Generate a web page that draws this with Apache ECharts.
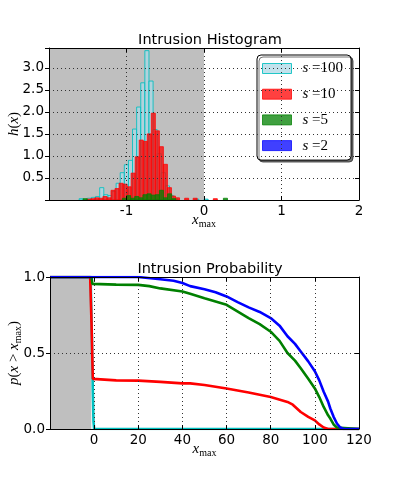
<!DOCTYPE html>
<html>
<head>
<meta charset="utf-8">
<script src="https://cdn.jsdelivr.net/npm/echarts@6/dist/echarts.min.js"></script>
<style>
  html, body { margin: 0; padding: 0; background: #fff; }
  #chart { width: 399px; height: 477px; }
</style>
</head>
<body>
<div id="chart"></div>
<script>
// histogram bins: left edges and heights, one pair of arrays per s
const s100Left = [-1.611, -1.505, -1.452, -1.399, -1.346, -1.293, -1.240, -1.187, -1.134, -1.081, -1.028, -0.975, -0.922, -0.869, -0.816, -0.763, -0.710, -0.657, -0.604, -0.551, -0.498, -0.445, -0.392, -0.120, 0.000];
const s100H    = [0.03, 0.04, 0.06, 0.08, 0.28, 0.12, 0.10, 0.20, 0.38, 0.62, 0.80, 0.90, 1.61, 2.11, 2.66, 3.39, 2.70, 1.60, 1.05, 0.62, 0.32, 0.10, 0.03, 0.02, 0.02];
const s100W = 0.053;

const s10Left = [-1.512, -1.460, -1.408, -1.356, -1.304, -1.252, -1.200, -1.148, -1.096, -1.044, -0.992, -0.940, -0.888, -0.836, -0.784, -0.732, -0.680, -0.628, -0.576, -0.524, -0.472, -0.420, -0.368, -0.250, -0.140, 0.120];
const s10H    = [0.02, 0.03, 0.05, 0.04, 0.08, 0.05, 0.22, 0.26, 0.38, 0.36, 0.30, 0.61, 0.98, 1.36, 1.33, 1.50, 1.97, 1.57, 1.21, 0.81, 0.28, 0.09, 0.05, 0.04, 0.04, 0.03];
const s10W = 0.052;

const s5Left = [-1.560, -1.053, -1.000, -0.947, -0.894, -0.841, -0.788, -0.735, -0.682, -0.629, -0.576, -0.523, -0.470, -0.417, 0.250];
const s5H    = [0.03, 0.04, 0.10, 0.04, 0.08, 0.05, 0.12, 0.14, 0.11, 0.12, 0.22, 0.05, 0.14, 0.03, 0.04];
const s5W = 0.053;

const s2Left = [];
const s2H = [];
const s2W = 0.053;

// intrusion probability curves
const p100X = [-20, -1.6, -1.0, -0.6, -0.3, 0, 120];
const p100Y = [1, 1, 0.6, 0.25, 0.05, 0, 0];
const p10X = [-20, -1.8, -1.2, -0.6, 0, 10, 20, 30, 40, 43.5, 50, 60, 70, 80, 87.6, 90, 93.6, 97, 100, 102, 104, 106, 120];
const p10Y = [1, 1, 0.7, 0.33, 0.322, 0.32, 0.318, 0.31, 0.30, 0.30, 0.29, 0.267, 0.24, 0.211, 0.178, 0.16, 0.112, 0.08, 0.057, 0.03, 0.01, 0, 0];
const p5X = [-20, -1.2, -0.8, 0, 10, 20, 25, 30, 40, 43.5, 50, 60, 70, 75, 80, 84, 87.6, 91, 93.6, 97, 100, 102, 104, 106, 107, 108.5, 110, 120];
const p5Y = [1, 1, 0.955, 0.95, 0.95, 0.948, 0.94, 0.925, 0.905, 0.89, 0.86, 0.817, 0.73, 0.69, 0.64, 0.58, 0.50, 0.45, 0.40, 0.33, 0.267, 0.21, 0.145, 0.09, 0.069, 0.03, 0.01, 0];
const p2X = [-20, 20, 30, 36, 40, 43.5, 50, 55, 60, 65, 70, 75, 80, 84, 87.6, 91, 93.6, 97, 100, 102, 104, 106, 107, 108.5, 110, 111.5, 113, 120];
const p2Y = [1, 1, 0.985, 0.975, 0.96, 0.94, 0.92, 0.9, 0.872, 0.835, 0.8, 0.77, 0.73, 0.68, 0.61, 0.56, 0.51, 0.445, 0.38, 0.32, 0.245, 0.18, 0.135, 0.08, 0.036, 0.01, 0, 0];

const histXTicks = [-2, 2, 1];      // min, max, interval
const histYTicks = [0, 3.45, 0.5];
const probXTicks = [-20, 120, 20];
const probYTicks = [0, 1, 0.5];

const sNames = ['s = 100', 's = 10', 's = 5', 's = 2'];
const faceColors = ['rgba(173,216,230,0.75)', 'rgba(255,0,0,0.75)', 'rgba(0,128,0,0.75)', 'rgba(0,0,255,0.75)'];
const edgeColors = ['rgba(0,191,191,0.85)', 'rgba(255,0,0,0.75)', 'rgba(0,128,0,0.75)', 'rgba(0,0,255,0.75)'];
const lineColors = ['#00bfbf', '#ff0000', '#008000', '#0000ff'];

const chart = echarts.init(document.getElementById('chart'), null, {renderer: 'canvas'});

const tickFont = {fontFamily: 'DejaVu Sans', fontSize: 13.5, color: '#000'};
const mathRich = {
  i: {fontFamily: 'Liberation Serif', fontStyle: 'italic', fontSize: 15, color: '#000'},
  n: {fontFamily: 'Liberation Serif', fontSize: 15, color: '#000'},
  sub: {fontFamily: 'Liberation Serif', fontSize: 10, color: '#000', padding: [8, 0, 0, 0]}
};
const dotted = {show: true, lineStyle: {type: [1, 3], color: '#333', width: 1}};

function histItem(params, api) {
  const x0 = api.value(0), x1 = api.value(1), h = api.value(2);
  const a = api.coord([x0, h]);
  const b = api.coord([x1, 0]);
  return {
    type: 'rect',
    shape: {x: a[0], y: a[1], width: b[0] - a[0], height: b[1] - a[1]},
    style: {fill: faceColors[params.seriesIndex - 1], stroke: edgeColors[params.seriesIndex - 1], lineWidth: 1}
  };
}

function binData(left, h, w) {
  return left.map((x, i) => [x, x + w, h[i]]);
}

function mainX(gi, ticks, hideFirst) {
  return {
    type: 'value', gridIndex: gi, min: ticks[0], max: ticks[1], interval: ticks[2], z: 10,
    axisLine: {show: true, onZero: false, lineStyle: {color: '#000', width: 1}},
    axisTick: {show: true, inside: true, length: 4, lineStyle: {color: '#000'}},
    axisLabel: Object.assign({margin: 4, formatter: v => (v === hideFirst ? '' : String(v))}, tickFont),
    splitLine: dotted,
    name: '{i|x}{sub|max}', nameLocation: 'middle', nameGap: 11, nameMoveOverlap: false,
    nameTextStyle: {rich: mathRich}
  };
}
function frameX(gi, ticks) {
  return {
    type: 'value', gridIndex: gi, position: 'top', min: ticks[0], max: ticks[1], interval: ticks[2], z: 10,
    axisLine: {show: true, onZero: false, lineStyle: {color: '#000', width: 1}},
    axisTick: {show: true, inside: true, length: 4, lineStyle: {color: '#000'}},
    axisLabel: {show: false}, splitLine: {show: false}
  };
}
function mainY(gi, ticks, fmt, name) {
  return {
    type: 'value', gridIndex: gi, min: ticks[0], max: ticks[1], interval: ticks[2], z: 10,
    axisLine: {show: true, onZero: false, lineStyle: {color: '#000', width: 1}},
    axisTick: {show: true, inside: false, length: 4, lineStyle: {color: '#000'}},
    axisLabel: Object.assign({margin: 5, formatter: fmt}, tickFont),
    splitLine: dotted,
    name: name, nameLocation: 'middle', nameGap: 27, nameRotate: 90, nameMoveOverlap: false,
    nameTextStyle: {rich: mathRich}
  };
}
function frameY(gi, ticks) {
  return {
    type: 'value', gridIndex: gi, position: 'right', min: ticks[0], max: ticks[1], interval: ticks[2], z: 10,
    axisLine: {show: true, onZero: false, lineStyle: {color: '#000', width: 1}},
    axisTick: {show: true, inside: true, length: 4, lineStyle: {color: '#000'}},
    axisLabel: {show: false}, splitLine: {show: false}
  };
}

const series = [];
// gray shaded region, top panel
series.push({
  type: 'line', name: 'shade1', xAxisIndex: 0, yAxisIndex: 0, data: [], z: 1, silent: true,
  markArea: {silent: true, itemStyle: {color: '#bfbfbf'}, data: [[{xAxis: -2}, {xAxis: 0}]]}
});
const lefts = [s100Left, s10Left, s5Left, s2Left];
const hs = [s100H, s10H, s5H, s2H];
const ws = [s100W, s10W, s5W, s2W];
sNames.forEach((nm, k) => {
  series.push({
    type: 'custom', name: nm, xAxisIndex: 0, yAxisIndex: 0, z: 2,
    renderItem: histItem, itemStyle: {color: faceColors[k], borderColor: edgeColors[k]},
    encode: {x: [0, 1], y: 2},
    data: binData(lefts[k], hs[k], ws[k])
  });
});
// gray shaded region, bottom panel
series.push({
  type: 'line', name: 'shade2', xAxisIndex: 2, yAxisIndex: 2, data: [], z: 1, silent: true,
  markArea: {silent: true, itemStyle: {color: '#bfbfbf'}, data: [[{xAxis: -20}, {xAxis: -1.3}]]}
});
const px = [p100X, p10X, p5X, p2X];
const py = [p100Y, p10Y, p5Y, p2Y];
px.forEach((xs, k) => {
  series.push({
    type: 'line', name: 'p' + k, xAxisIndex: 2, yAxisIndex: 2, z: 3,
    showSymbol: false, animation: false,
    lineStyle: {color: lineColors[k], width: 2.6},
    data: xs.map((x, i) => [x, py[k][i]])
  });
});

const option = {
  animation: false,
  backgroundColor: '#fff',
  title: [
    {text: 'Intrusion Histogram', left: 205, top: 28, textAlign: 'center',
     textStyle: {fontFamily: 'DejaVu Sans', fontSize: 14.5, fontWeight: 'normal', color: '#000'}},
    {text: 'Intrusion Probability', left: 205, top: 257, textAlign: 'center',
     textStyle: {fontFamily: 'DejaVu Sans', fontSize: 14.5, fontWeight: 'normal', color: '#000'}}
  ],
  grid: [
    {left: 49, top: 48, width: 310, height: 152, containLabel: false, outerBoundsMode: 'none'},
    {left: 50, top: 277, width: 309, height: 152, containLabel: false, outerBoundsMode: 'none'}
  ],
  xAxis: [
    mainX(0, histXTicks, -2), frameX(0, histXTicks),
    mainX(1, probXTicks, -20), frameX(1, probXTicks)
  ],
  yAxis: [
    mainY(0, histYTicks, v => (v === 0 || v > 3.2 ? '' : v.toFixed(1)), '{i|h}{n|(}{i|x}{n|)}'),
    frameY(0, histYTicks),
    mainY(1, probYTicks, v => v.toFixed(1), '{i|p}{n|(}{i|x}{n| > }{i|x}{sub|max}{n|)}'),
    frameY(1, probYTicks)
  ],
  legend: {
    data: sNames.map((nm, k) => ({name: nm, icon: 'rect',
      itemStyle: {color: faceColors[k], borderColor: edgeColors[k], borderWidth: 1}})),
    orient: 'vertical', left: 257, top: 55, padding: [6, 8, 7, 5],
    itemWidth: 29, itemHeight: 10, itemGap: 10.7,
    backgroundColor: '#fff', borderColor: '#000', borderWidth: 1, borderRadius: 4,
    shadowColor: 'rgba(0,0,0,0.55)', shadowBlur: 0, shadowOffsetX: 2, shadowOffsetY: 2,
    selectedMode: false,
    formatter: name => '{i|s}{n| =' + name.split('= ')[1] + '}',
    textStyle: {padding: [0, 0, 0, 6], rich: {
      i: {fontFamily: 'Liberation Serif', fontStyle: 'italic', fontSize: 15, lineHeight: 10, color: '#000'},
      n: {fontFamily: 'Liberation Serif', fontSize: 15, lineHeight: 10, color: '#000'}
    }}
  },
  series: series
};

chart.setOption(option);
</script>
</body>
</html>
